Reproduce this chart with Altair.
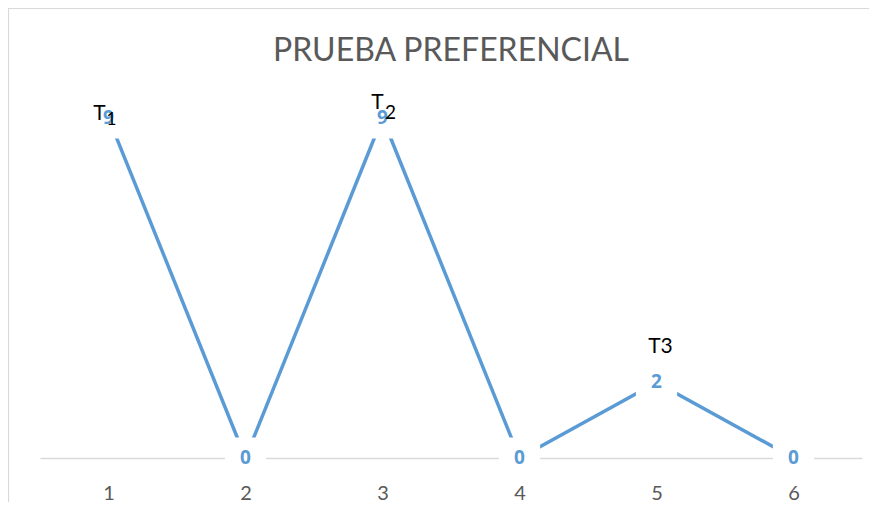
import altair as alt
import pandas as pd

title_text = ["PRUEBA PREFERENCIAL"]
categories = ["1", "2", "3", "4", "5", "6"]
values = [9, 0, 9, 0, 2, 0]
ann_cats = ["1", "3", "5"]
ann_vals = [9, 9, 2]
ann_letter = ["T", "T", "T3"]
ann_sub = ["1", "2", ""]

df = pd.DataFrame({"cat": categories, "val": values})
ann = pd.DataFrame({"cat": ann_cats, "val": ann_vals, "letter": ann_letter, "sub": ann_sub})

FONT = "Lato"
BLUE = "#5b9bd5"

x = alt.X("cat:O", sort=categories, title=None,
          scale=alt.Scale(padding=0.5),
          axis=alt.Axis(labelAngle=0, ticks=False, domainColor="#d9d9d9",
                        domainWidth=1.5, labelColor="#595959", labelFontSize=20,
                        labelFont=FONT, labelPadding=25, grid=False))
y = alt.Y("val:Q", title=None, axis=None, scale=alt.Scale(domain=[0, 10]))

base = alt.Chart(df).encode(x=x, y=y)

border = alt.Chart(pd.DataFrame({"a": [0]})).mark_rect(
    fill=None, stroke="#d9d9d9", strokeWidth=1.2
).encode(x=alt.value(-31.5), x2=alt.value(845), y=alt.value(-71.5), y2=alt.value(440))

title = alt.Chart(pd.DataFrame({"t": title_text})).mark_text(
    fontSize=32, font=FONT, fontWeight=400, color="#595959", baseline="middle"
).encode(x=alt.value(411), y=alt.value(-29), text="t:N")

line = base.mark_line(color=BLUE, strokeWidth=3.5)
mask = base.mark_square(size=1700, color="white", opacity=1)
labels = base.mark_text(color=BLUE, fontWeight="bold", fontSize=19, font="Open Sans").encode(
    text="val:Q")

ann_base = alt.Chart(ann).encode(x=alt.X("cat:O", sort=categories), y="val:Q")


def ann_layer(cat, field, dx, dy, size):
    return ann_base.transform_filter(alt.datum.cat == cat).mark_text(
        fontSize=size, font=FONT, color="black", dx=dx, dy=dy).encode(text=f"{field}:N")


t1a = ann_layer("1", "letter", -9, -4, 21)
t1b = ann_layer("1", "sub", 3, 2, 17)
t2a = ann_layer("3", "letter", -5, -15, 21)
t2b = ann_layer("3", "sub", 8, -5, 19)
t3 = ann_layer("5", "letter", 4, -35, 21)

chart = alt.layer(border, title, line, mask, labels, t1a, t1b, t2a, t2b, t3).properties(
    width=822, height=378,
    autosize=alt.AutoSizeParams(type="none"),
    padding={"left": 32, "top": 72, "right": 7, "bottom": 44},
).configure_view(stroke=None)

chart.save("out.html", embed_options={"renderer": "svg", "actions": False})
